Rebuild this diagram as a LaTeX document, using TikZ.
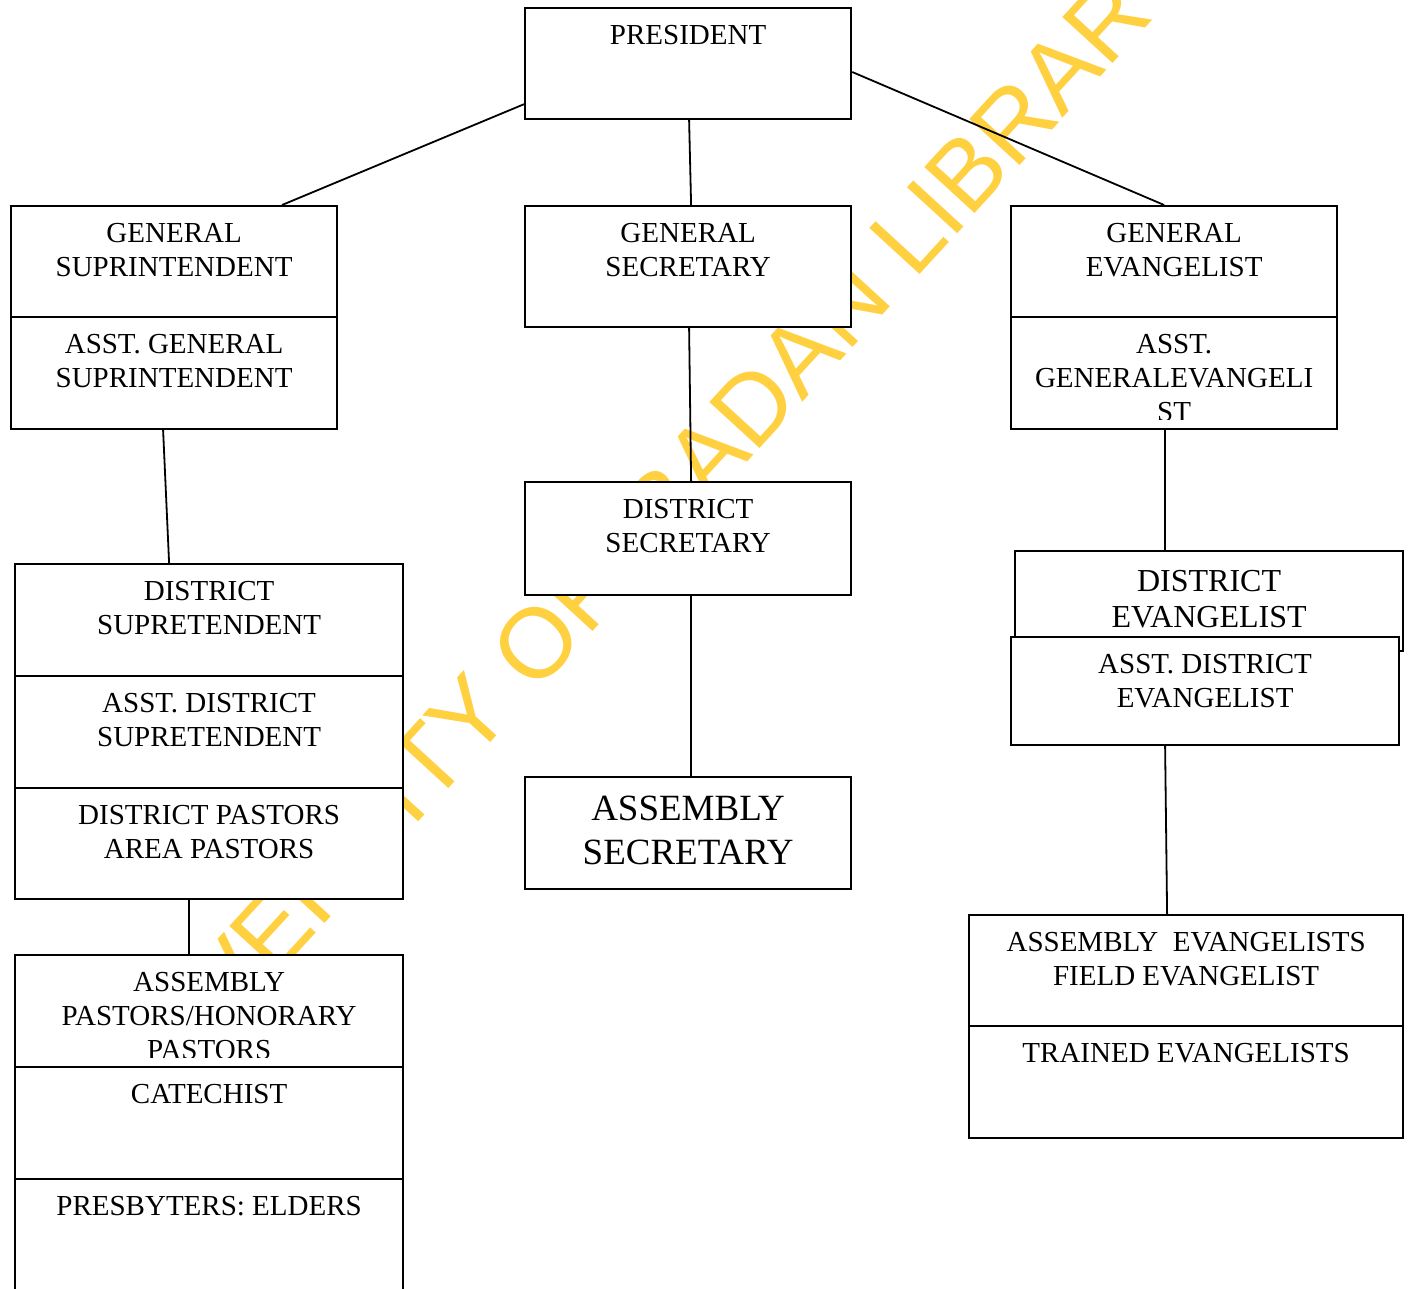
\documentclass[tikz,border=0pt]{standalone}
\usepackage{fontspec}
\setmainfont{Liberation Serif}
\newfontfamily\wmfont{Liberation Sans}
\usetikzlibrary{calc}
\definecolor{wmyellow}{RGB}{255,208,64}
\begin{document}
\begin{tikzpicture}[x=1pt,y=-1pt,
  box/.style={draw=black, line width=2.2pt, fill=white, inner sep=0pt, anchor=north west},
  lbl/.style={font=\fontsize{29}{34}\selectfont, align=center, anchor=base, inner sep=0pt},
  biglbl/.style={font=\fontsize{32}{36}\selectfont, align=center, anchor=base, inner sep=0pt},
  hugelbl/.style={font=\fontsize{37}{44}\selectfont, align=center, anchor=base, inner sep=0pt},
  conn/.style={draw=black, line width=1.8pt},
  wm/.style={text=wmyellow, font=\wmfont\fontsize{99}{110}\selectfont, inner sep=0pt}]
\useasboundingbox (0,0) rectangle (1410,1288);
\fill[white] (0,0) rectangle (1410,1288);
% watermark
\node[wm, rotate=47.5] (wm) at (632,538) {UNIVERSITY OF IBADAN LIBRARY};
% boxes
\node[box, minimum width=326, minimum height=111] (pres) at (524,7) {};
\node[box, minimum width=326, minimum height=111] (gsup) at (10,205) {};
\node[box, minimum width=326, minimum height=112] (agsup) at (10,316) {};
\node[box, minimum width=326, minimum height=121] (gsec) at (524,205) {};
\node[box, minimum width=326, minimum height=111] (gev) at (1010,205) {};
\node[box, minimum width=326, minimum height=112] (agev) at (1010,316) {};
\node[box, minimum width=326, minimum height=113] (dsec) at (524,481) {};
\node[box, minimum width=326, minimum height=112] (asec) at (524,776) {};
\node[box, minimum width=388, minimum height=112] (dsup) at (14,563) {};
\node[box, minimum width=388, minimum height=112] (adsup) at (14,675) {};
\node[box, minimum width=388, minimum height=111] (dpas) at (14,787) {};
\node[box, minimum width=388, minimum height=112] (apas) at (14,954) {};
\node[box, minimum width=388, minimum height=112] (cat) at (14,1066) {};
\node[box, minimum width=388, minimum height=130] (presb) at (14,1178) {};
\node[box, minimum width=388, minimum height=100] (dev) at (1014,550) {};
\node[box, minimum width=388, minimum height=108] (adev) at (1010,636) {};
\node[box, minimum width=434, minimum height=111] (aev) at (968,914) {};
\node[box, minimum width=434, minimum height=112] (tev) at (968,1025) {};
% connectors
\draw[conn] ($(pres.south west)+(0,-16)$) -- ($(gsup.north west)+(272,0)$);
\draw[conn] ($(pres.south)+(1,0)$) -- ($(gsec.north)+(3,0)$);
\draw[conn] ($(pres.north east)+(0,65)$) -- ($(gev.north)+(-10,0)$);
\draw[conn] ($(gsec.south)+(1,0)$) -- ($(dsec.north)+(3,0)$);
\draw[conn] ($(dsec.south)+(3,0)$) -- ($(asec.north)+(3,0)$);
\draw[conn] ($(agsup.south)+(-11,0)$) -- ($(dsup.north)+(-40,0)$);
\draw[conn] ($(dpas.south)+(-20,0)$) -- ($(apas.north)+(-20,0)$);
\draw[conn] ($(agev.south)+(-9,0)$) -- ($(dev.north)+(-44,0)$);
\draw[conn] ($(adev.south)+(-40,0)$) -- ($(aev.north)+(-19,0)$);
% labels (anchor = baseline of the last line)
\node[lbl] (pres-t) at ($(pres.north)+(0,37)$) {PRESIDENT};
\node[lbl] (gsup-t) at ($(gsup.north)+(0,71)$) {GENERAL\\SUPRINTENDENT};
\node[lbl] (agsup-t) at ($(agsup.north)+(0,71)$) {ASST. GENERAL\\SUPRINTENDENT};
\node[lbl] (gsec-t) at ($(gsec.north)+(0,71)$) {GENERAL\\SECRETARY};
\node[lbl] (gev-t) at ($(gev.north)+(0,71)$) {GENERAL\\EVANGELIST};
\begin{scope}
\clip (agev.north west) rectangle ($(agev.south east)+(0,-11)$);
\node[lbl] (agev-t) at ($(agev.north)+(0,105)$) {ASST.\\GENERALEVANGELI\\ST};
\end{scope}
\node[lbl] (dsec-t) at ($(dsec.north)+(0,71)$) {DISTRICT\\SECRETARY};
\node[hugelbl] (asec-t) at ($(asec.north)+(0,88)$) {ASSEMBLY\\SECRETARY};
\node[lbl] (dsup-t) at ($(dsup.north)+(0,71)$) {DISTRICT\\SUPRETENDENT};
\node[lbl] (adsup-t) at ($(adsup.north)+(0,71)$) {ASST. DISTRICT\\SUPRETENDENT};
\node[lbl] (dpas-t) at ($(dpas.north)+(0,71)$) {DISTRICT PASTORS\\AREA PASTORS};
\begin{scope}
\clip (apas.north west) rectangle ($(apas.south east)+(0,-11)$);
\node[lbl] (apas-t) at ($(apas.north)+(0,105)$) {ASSEMBLY\\PASTORS/HONORARY\\PASTORS};
\end{scope}
\node[lbl] (cat-t) at ($(cat.north)+(0,37)$) {CATECHIST};
\node[lbl] (presb-t) at ($(presb.north)+(0,37)$) {PRESBYTERS: ELDERS};
\node[biglbl] (dev-t) at ($(dev.north)+(0,77)$) {DISTRICT\\EVANGELIST};
\node[lbl] (adev-t) at ($(adev.north)+(0,71)$) {ASST. DISTRICT\\EVANGELIST};
\node[lbl] (aev-t) at ($(aev.north)+(0,71)$) {ASSEMBLY\ \ EVANGELISTS\\FIELD EVANGELIST};
\node[lbl] (tev-t) at ($(tev.north)+(0,37)$) {TRAINED EVANGELISTS};
\end{tikzpicture}
\end{document}
